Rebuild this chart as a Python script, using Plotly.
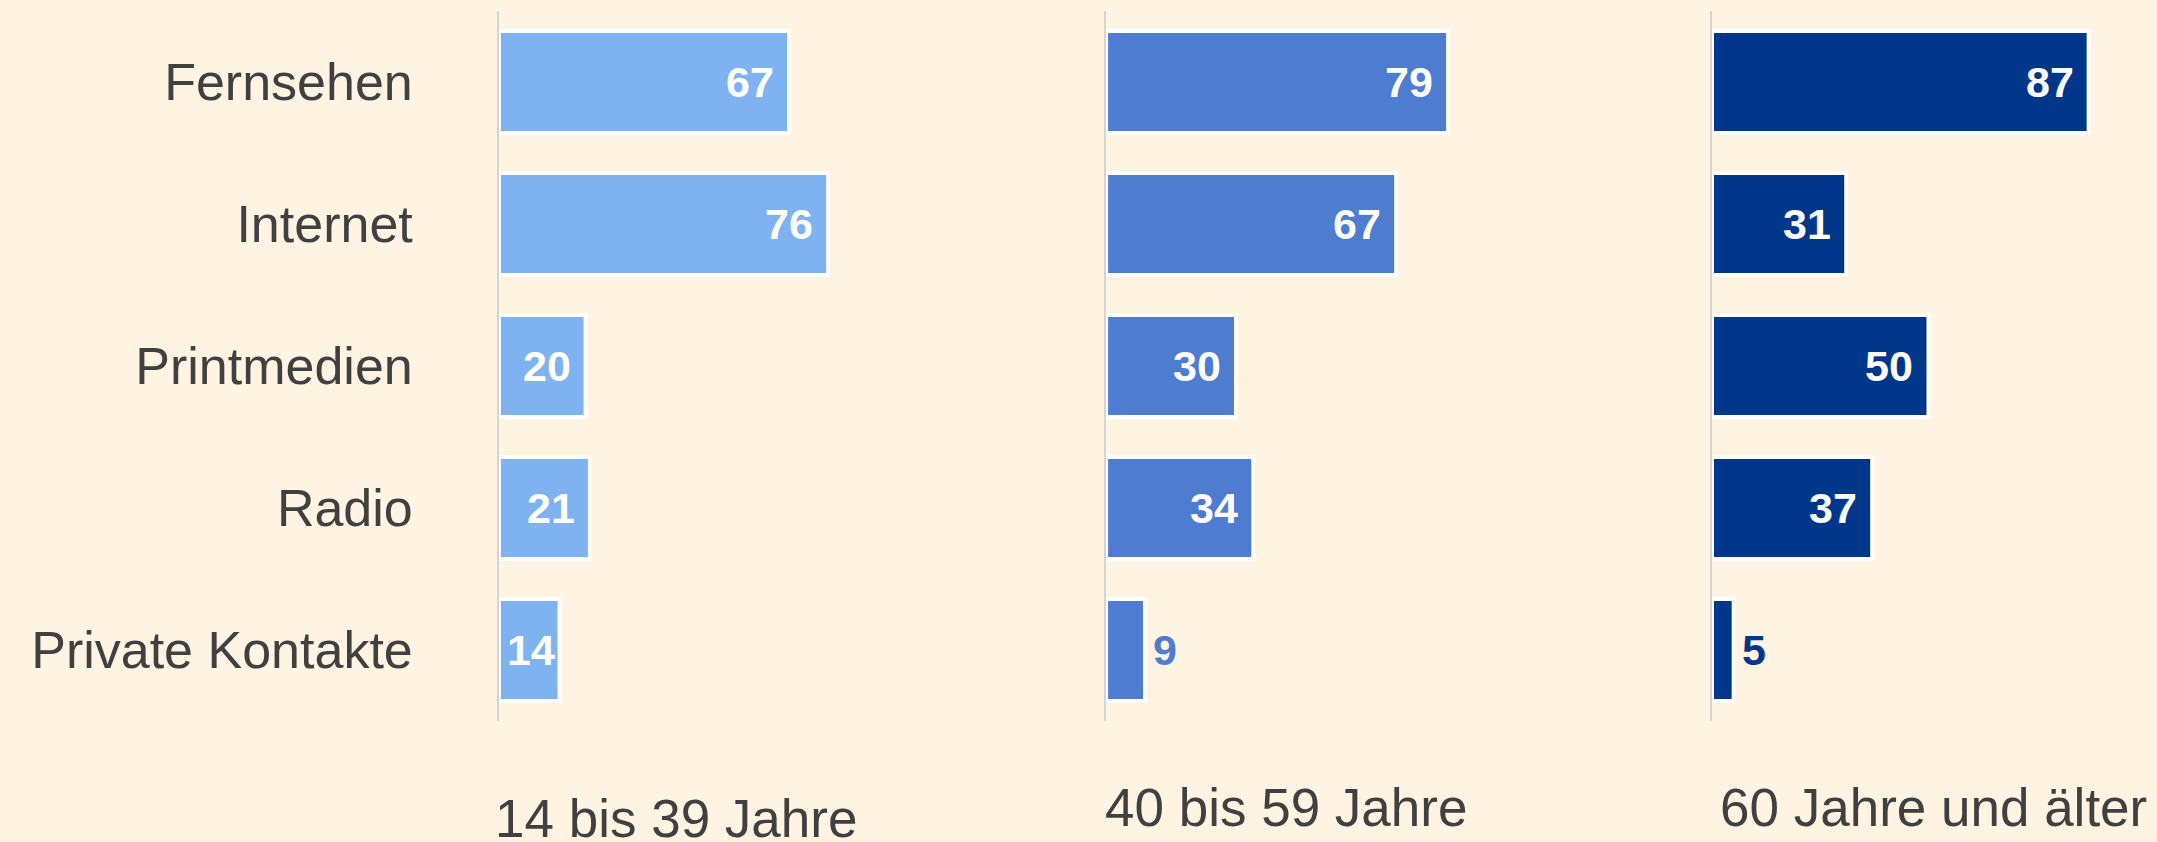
import plotly.graph_objects as go

categories = ["Fernsehen", "Internet", "Printmedien", "Radio", "Private Kontakte"]
groups = ["14 bis 39 Jahre", "40 bis 59 Jahre", "60 Jahre und älter"]
values_14_39 = [67, 76, 20, 21, 14]
values_40_59 = [79, 67, 30, 34, 9]
values_60_plus = [87, 31, 50, 37, 5]
series = [values_14_39, values_40_59, values_60_plus]
colors = ["#7FB2F1", "#4E7CD0", "#00378A"]

W, H = 2157, 842
BG = "#FFF3E1"
FONT = "Liberation Sans, Arial, sans-serif"
x_domains = [[0.2313, 0.4321], [0.5128, 0.7135], [0.7937, 0.9944]]
group_xshift = [-6, -3, 6]
group_y = [-0.138, -0.122, -0.122]
x_max = 100
label_size = 43

fig = go.Figure()
annotations = []
for i, (vals, col, grp) in enumerate(zip(series, colors, groups)):
    sfx = "" if i == 0 else str(i + 1)
    fig.add_trace(go.Bar(
        x=vals, y=categories, orientation="h",
        xaxis="x" + sfx, yaxis="y" + sfx,
        marker=dict(color=col, line=dict(color="white", width=4)),
        width=0.72, showlegend=False, hoverinfo="x+y",
    ))
    ppu = (x_domains[i][1] - x_domains[i][0]) * W / x_max
    for cat, v in zip(categories, vals):
        txt = str(v)
        tw = len(txt) * 0.556 * label_size
        if v >= 10:
            if v * ppu - 15 - tw < 8:
                ann = dict(x=0, xanchor="left", xshift=6, font_color="white")
            else:
                ann = dict(x=v, xanchor="right", xshift=-13, font_color="white")
        else:
            ann = dict(x=v, xanchor="left", xshift=6, font_color=col)
        annotations.append(dict(
            text=txt, y=cat, xref="x" + sfx, yref="y" + sfx, showarrow=False,
            yanchor="middle", x=ann["x"], xanchor=ann["xanchor"], xshift=ann["xshift"],
            font=dict(family=FONT, size=label_size, color=ann["font_color"], weight="bold"),
        ))
    annotations.append(dict(
        text=grp, xref="x" + sfx + " domain", yref="paper", x=0, xanchor="left",
        xshift=group_xshift[i], y=group_y[i], yanchor="middle", showarrow=False,
        font=dict(family=FONT, size=53, color="#404040"),
    ))

layout = dict(
    width=W, height=H, paper_bgcolor=BG, plot_bgcolor=BG,
    margin=dict(l=0, r=0, t=11, b=121),
    bargap=0.28, annotations=annotations,
    font=dict(family=FONT, color="#404040"),
)
for i in range(3):
    sfx = "" if i == 0 else str(i + 1)
    layout["xaxis" + sfx] = dict(domain=x_domains[i], range=[0, x_max], visible=False,
                                  anchor="y" + sfx, fixedrange=True)
    yax = dict(anchor="x" + sfx, domain=[0, 1], categoryorder="array",
               categoryarray=categories, autorange="reversed",
               showline=True, linecolor="#D4D4D4", linewidth=1.5, showgrid=False,
               zeroline=False, ticks="", showticklabels=(i == 0))
    if i == 0:
        yax.update(tickfont=dict(family=FONT, size=52, color="#404040"), ticklabelstandoff=74)
    else:
        yax.update(matches="y")
    layout["yaxis" + sfx] = yax

fig.update_layout(**layout)
fig.write_html(
    "out.html",
    config={"displayModeBar": False},
    post_script="document.body.style.margin='0';document.body.style.overflow='hidden';",
)
